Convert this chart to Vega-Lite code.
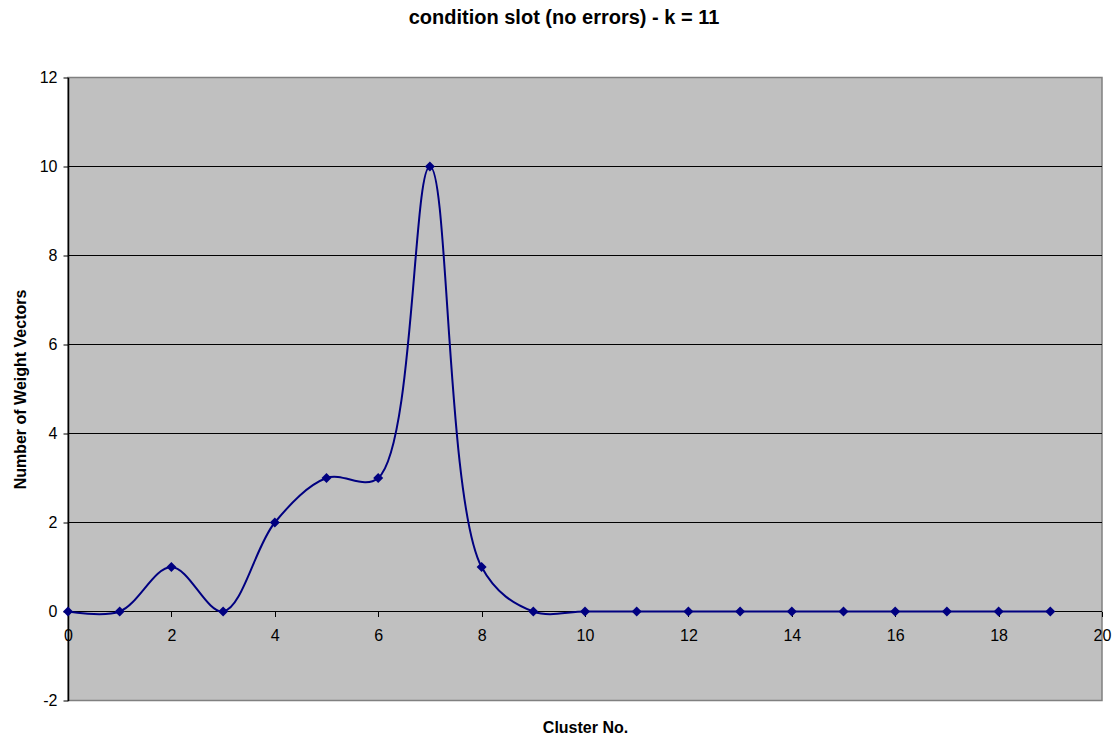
{
  "$schema": "https://vega.github.io/schema/vega-lite/v6.json",
  "width": 1034,
  "height": 623,
  "autosize": "none",
  "padding": {"left": 68, "top": 77.5, "right": 13, "bottom": 39.5},
  "background": "white",
  "title": {
    "text": "condition slot (no errors) - k = 11",
    "font": "Liberation Sans",
    "fontSize": 20,
    "fontWeight": "bold",
    "color": "black",
    "anchor": "middle",
    "dx": -21,
    "offset": 42
  },
  "config": {
    "view": {"fill": "#C0C0C0", "stroke": "#808080", "strokeWidth": 1.5},
    "axis": {
      "labelFont": "Liberation Sans",
      "labelFontSize": 16,
      "labelColor": "black",
      "labelExpr": "'' + datum.value",
      "titleFont": "Liberation Sans",
      "titleFontSize": 16,
      "titleFontWeight": "bold",
      "titleColor": "black",
      "tickColor": "black",
      "tickSize": 5,
      "grid": false
    }
  },
  "datasets": {
    "clusters": [
      {"cluster": 0, "count": 0},
      {"cluster": 1, "count": 0},
      {"cluster": 2, "count": 1},
      {"cluster": 3, "count": 0},
      {"cluster": 4, "count": 2},
      {"cluster": 5, "count": 3},
      {"cluster": 6, "count": 3},
      {"cluster": 7, "count": 10},
      {"cluster": 8, "count": 1},
      {"cluster": 9, "count": 0},
      {"cluster": 10, "count": 0},
      {"cluster": 11, "count": 0},
      {"cluster": 12, "count": 0},
      {"cluster": 13, "count": 0},
      {"cluster": 14, "count": 0},
      {"cluster": 15, "count": 0},
      {"cluster": 16, "count": 0},
      {"cluster": 17, "count": 0},
      {"cluster": 18, "count": 0},
      {"cluster": 19, "count": 0}
    ],
    "gridlines": [
      {"level": 0}, {"level": 2}, {"level": 4}, {"level": 6}, {"level": 8}, {"level": 10}
    ]
  },
  "layer": [
    {
      "data": {"name": "gridlines"},
      "mark": {"type": "rule", "color": "black", "strokeWidth": 1},
      "encoding": {
        "y": {
          "field": "level",
          "type": "quantitative",
          "scale": {"domain": [-2, 12], "nice": false, "zero": false},
          "axis": {
            "title": "Number of Weight Vectors",
            "values": [-2, 0, 2, 4, 6, 8, 10, 12],
            "domain": true,
            "domainColor": "black",
            "domainWidth": 1.5,
            "labelPadding": 6,
            "titlePadding": 11
          }
        }
      }
    },
    {
      "data": {"name": "clusters"},
      "mark": {"type": "line", "interpolate": "catmull-rom", "color": "#000080", "strokeWidth": 2},
      "encoding": {
        "x": {
          "field": "cluster",
          "type": "quantitative",
          "scale": {"domain": [0, 20], "nice": false, "zero": false},
          "axis": {
            "title": "Cluster No.",
            "values": [0, 2, 4, 6, 8, 10, 12, 14, 16, 18, 20],
            "domain": false,
            "offset": -89,
            "labelPadding": 11,
            "labelFlush": false,
            "titlePadding": 76
          }
        },
        "y": {"field": "count", "type": "quantitative"}
      }
    },
    {
      "data": {"name": "clusters"},
      "mark": {"type": "point", "shape": "diamond", "filled": true, "color": "#000080", "size": 100, "opacity": 1},
      "encoding": {
        "x": {"field": "cluster", "type": "quantitative"},
        "y": {"field": "count", "type": "quantitative"}
      }
    }
  ]
}
